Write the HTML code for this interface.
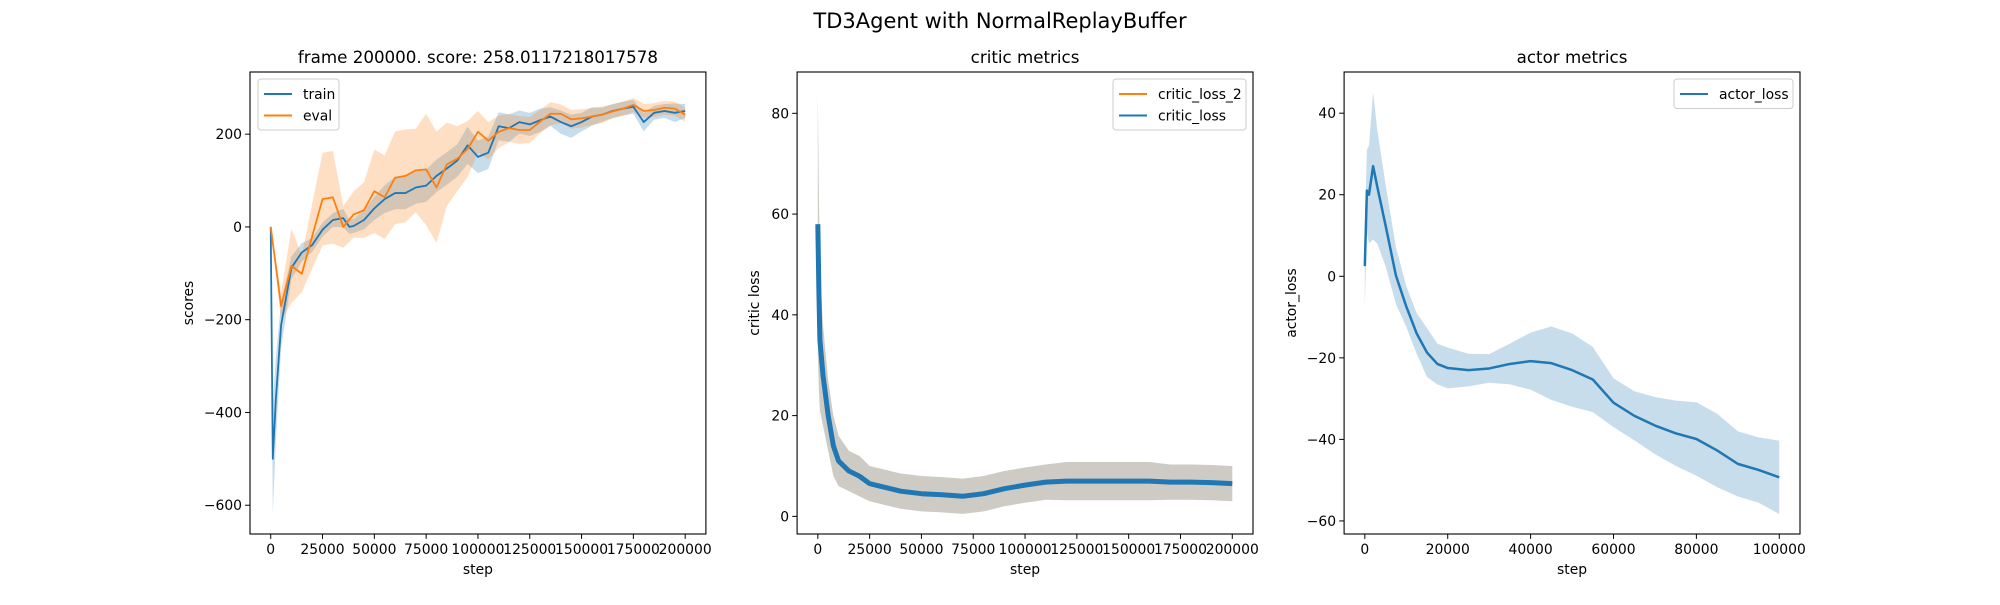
<!DOCTYPE html>
<html><head><meta charset="utf-8"><style>
html,body{margin:0;padding:0;background:#fff;}
svg text{font-family:"DejaVu Sans","Liberation Sans",sans-serif;fill:#000;}
</style></head><body>
<svg id="fig" width="2000" height="600" viewBox="0 0 2000 600" xmlns="http://www.w3.org/2000/svg">
<rect width="2000" height="600" fill="#fff"/>
<text x="1000" y="28" text-anchor="middle" font-size="21">TD3Agent with NormalReplayBuffer</text>
</svg>
<script>
// ---- scores panel data ----
const trainSteps = [0,1000,2500,5000,10000,15000,20000,25000,30000,35000,38000,40000,45000,50000,55000,60000,65000,70000,75000,80000,85000,90000,95000,100000,105000,110000,115000,120000,125000,130000,135000,140000,145000,150000,155000,160000,165000,170000,175000,180000,185000,190000,195000,200000];
const trainScores = [0,-500,-370,-212,-88,-55,-39,-6,15,19,0,2,15,40,60,73,73,85,89,110,126,143,176,151,160,217,213,226,221,230,238,226,217,226,238,242,250,255,259,226,246,250,246,250];
const trainStd = [0,120,90,50,25,20,15,15,15,20,15,15,20,25,30,35,35,35,35,35,35,35,40,35,35,30,30,25,25,25,20,25,25,20,20,15,15,15,15,20,15,15,20,15];
const evalSteps = [0,5000,10000,15000,20000,25000,30000,35000,40000,45000,50000,55000,60000,65000,70000,75000,80000,85000,90000,95000,100000,105000,110000,115000,120000,125000,130000,135000,140000,145000,150000,155000,160000,165000,170000,175000,180000,185000,190000,195000,200000];
const evalScores = [0,-171,-84,-101,-20,60,64,0,27,36,77,64,106,110,122,124,85,135,147,168,205,186,205,213,209,209,227,244,244,232,234,238,242,249,255,263,250,252,257,255,242];
const evalStd = [0,30,80,40,70,100,100,45,50,60,90,90,100,100,90,120,120,90,70,60,45,40,35,30,30,28,25,25,20,20,20,18,18,15,15,15,15,15,15,15,15];
// ---- critic panel data ----
const criticSteps = [0,500,1000,2500,5000,7500,10000,15000,20000,25000,30000,40000,50000,60000,70000,80000,90000,100000,110000,120000,130000,140000,150000,160000,170000,180000,190000,200000];
const criticLoss = [58,45,35,28,20,14,11,9,8,6.5,6,5,4.5,4.3,4,4.5,5.5,6.2,6.8,7,7,7,7,7,6.8,6.8,6.7,6.5];
const criticLoss2 = [58,45,35,28,20,14,11,9,8,6.5,6,5,4.5,4.3,4,4.5,5.5,6.2,6.8,7,7,7,7,7,6.8,6.8,6.7,6.5];
const criticStd = [26,20,14,10,7,6,5,4,4,3.5,3.5,3.5,3.5,3.5,3.5,3.5,3.5,3.5,3.5,3.8,3.8,3.8,3.8,3.8,3.5,3.5,3.5,3.5];
// ---- actor panel data ----
const actorSteps = [0,500,1000,2000,3000,5000,7500,10000,12500,15000,17500,20000,25000,30000,35000,40000,45000,50000,55000,60000,65000,70000,75000,80000,85000,90000,95000,100000];
const actorLoss = [2.5,21,20,27,22,12.5,0.2,-7.4,-14,-18.7,-21.5,-22.5,-23,-22.6,-21.5,-20.8,-21.3,-23,-25.3,-31,-34.2,-36.6,-38.5,-39.9,-42.7,-46,-47.5,-49.3];
const actorStd = [10,10,12,18,14,10,7,5,5,6,5,5,4,3.5,5,7,9,9,8,6,6,7,8,9,9,8,8,9];
// ---- tick labels ----
const scoreXTicks = [0,25000,50000,75000,100000,125000,150000,175000,200000];
const scoreYTicks = [-600,-400,-200,0,200];
const criticYTicks = [0,20,40,60,80];
const actorXTicks = [0,20000,40000,60000,80000,100000];
const actorYTicks = [-60,-40,-20,0,20,40];

const NS='http://www.w3.org/2000/svg';
const svg=document.getElementById('fig');
function mk(tag,attrs,parent){const e=document.createElementNS(NS,tag);for(const k in attrs)e.setAttribute(k,attrs[k]);(parent||svg).appendChild(e);return e;}
const T=72,B=534,W=455.9;
function axes(left,xmin,xmax,ymin,ymax,name){
  const g=mk('g',{});
  
  
  const sx=v=>left+(v-xmin)/(xmax-xmin)*W;
  const sy=v=>B-(v-ymin)/(ymax-ymin)*(B-T);
  return {g,sx,sy,left};
}
function band(ax,xs,ys,sd,color,op,name){
  let d='';
  xs.forEach((x,i)=>{d+=(i?'L':'M')+ax.sx(x)+' '+ax.sy(ys[i]+sd[i]);});
  for(let i=xs.length-1;i>=0;i--)d+='L'+ax.sx(xs[i])+' '+ax.sy(ys[i]-sd[i]);
  const p=mk('path',{d:d+'Z',fill:color,'fill-opacity':op,stroke:'none'},ax.g);
  
  
}
function line(ax,xs,ys,color,w,name){
  const pts=xs.map((x,i)=>ax.sx(x)+','+ax.sy(ys[i])).join(' ');
  const p=mk('polyline',{points:pts,fill:'none',stroke:color,'stroke-width':w,'stroke-linejoin':'round'},ax.g);
  
  
}
function frame(ax,xt,yt,title,ylabel,ylx,prefix){
  const r=mk('rect',{x:ax.left,y:T,width:W,height:B-T,fill:'none',stroke:'#000','stroke-width':1.1},ax.g);
  
  
  xt.forEach(v=>{const x=ax.sx(v);mk('line',{x1:x,x2:x,y1:B,y2:B+4.9,stroke:'#000'},ax.g);
    const t=mk('text',{x:x,y:B+20,'text-anchor':'middle','font-size':13.9},ax.g);t.textContent=String(v);
    
    });
  yt.forEach(v=>{const y=ax.sy(v);mk('line',{x1:ax.left-4.9,x2:ax.left,y1:y,y2:y,stroke:'#000'},ax.g);
    const t=mk('text',{x:ax.left-8,y:y+5,'text-anchor':'end','font-size':13.9},ax.g);t.textContent=String(v).replace('-','\u2212');
    
    });
  const tt=mk('text',{x:ax.left+W/2,y:63,'text-anchor':'middle','font-size':16.7},ax.g);tt.textContent=title;
  
  
  const xl=mk('text',{x:ax.left+W/2,y:574,'text-anchor':'middle','font-size':13.9},ax.g);xl.textContent='step';
  
  
  const yl=mk('text',{x:ylx,y:(T+B)/2,'text-anchor':'middle','font-size':13.9,transform:'rotate(-90 '+ylx+' '+(T+B)/2+')'},ax.g);yl.textContent=ylabel;
  
  
}
function legend(ax,x,y,w,entries,prefix){
  const g=mk('g',{},ax.g);
  
  
  mk('rect',{x:x,y:y,width:w,height:8+entries.length*21.5,rx:3,fill:'#fff','fill-opacity':0.8,stroke:'#ccc'},g);
  entries.forEach((e,i)=>{const yy=y+15+i*21.5;
    mk('line',{x1:x+6,x2:x+34,y1:yy,y2:yy,stroke:e[1],'stroke-width':2},g);
    const t=mk('text',{x:x+45,y:yy+5,'font-size':13.9},g);t.textContent=e[0];
    
    });
}
const blue='#1f77b4',orange='#ff7f0e';
// panel 1
const a1=axes(250,-10000,210000,-662,334,'scores-panel');
band(a1,trainSteps,trainScores,trainStd,blue,0.25,'train-band');
band(a1,evalSteps,evalScores,evalStd,orange,0.25,'eval-band');
line(a1,trainSteps,trainScores,blue,1.8,'train-line');
line(a1,evalSteps,evalScores,orange,1.8,'eval-line');
frame(a1,scoreXTicks,scoreYTicks,'frame 200000. score: 258.0117218017578','scores',193,'scores');
legend(a1,258,79,81,[['train',blue],['eval',orange]],'scores');
// panel 2
const a2=axes(797.1,-10000,210000,-3.5,88.2,'critic-panel');
band(a2,criticSteps,criticLoss2,criticStd,orange,0.22,'critic-loss-2-band');
band(a2,criticSteps,criticLoss,criticStd,blue,0.22,'critic-loss-band');
line(a2,criticSteps,criticLoss2,orange,1.5,'critic-loss-2-line');
line(a2,criticSteps,criticLoss,blue,5,'critic-loss-line');
frame(a2,scoreXTicks,criticYTicks,'critic metrics','critic loss',759,'critic');
legend(a2,1113,79,133,[['critic_loss_2',orange],['critic_loss',blue]],'critic');
// panel 3
const a3=axes(1344.1,-5000,105000,-63.2,50.1,'actor-panel');
band(a3,actorSteps,actorLoss,actorStd,blue,0.25,'actor-loss-band');
line(a3,actorSteps,actorLoss,blue,2.5,'actor-loss-line');
frame(a3,actorXTicks,actorYTicks,'actor metrics','actor_loss',1296,'actor');
legend(a3,1674,79,119,[['actor_loss',blue]],'actor');
</script>
</body></html>
